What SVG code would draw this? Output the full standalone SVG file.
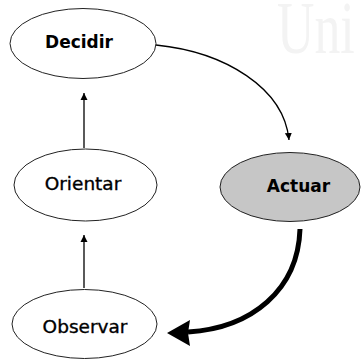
<svg xmlns="http://www.w3.org/2000/svg" width="361" height="359" viewBox="0 0 361 359">
<style>
.node ellipse{fill:#fff;stroke:#222;stroke-width:1}
#actuar ellipse{fill:#c6c6c6}
.lbl{font-family:"DejaVu Sans",Verdana,sans-serif;fill:#000;text-anchor:middle}
.b{font-weight:bold;font-size:17px}
.r{font-weight:normal;font-size:18.5px;stroke:#000;stroke-width:0.35}
.thin{fill:none;stroke:#000;stroke-width:1.3}
.thick{fill:none;stroke:#000;stroke-width:5}
</style>
<defs>
<marker id="ah" markerWidth="8" markerHeight="8" refX="7" refY="4" orient="auto" markerUnits="userSpaceOnUse">
<path d="M0,0.5 L7,4 L0,7.5 Z" fill="#000"/>
</marker>
</defs>
<text x="277" y="53" font-family="Liberation Serif,serif" font-size="74" fill="#f3f3f3" transform="translate(277 0) scale(0.7 1) translate(-277 0)">Uni</text>
<g id="connectors">
<path class="thin" d="M84,148 L84,93" marker-end="url(#ah)"/>
<path class="thin" d="M84,288 L84,235" marker-end="url(#ah)"/>
<path class="thin" d="M156,45 C225,52 284,88 289,140" marker-end="url(#ah)"/>
<path class="thick" d="M300,229 C298,290 252,328 188,332"/>
<path d="M167,333 L190,320 L188,333 L190,346 Z" fill="#000"/>
</g>
<g id="decidir" class="node">
<ellipse cx="83" cy="43.5" rx="73" ry="35"/>
<text class="lbl b" x="79" y="48">Decidir</text>
</g>
<g id="orientar" class="node">
<ellipse cx="85.5" cy="185" rx="71.5" ry="36"/>
<text class="lbl r" x="83" y="190">Orientar</text>
</g>
<g id="actuar" class="node">
<ellipse cx="290" cy="187" rx="70" ry="34.5"/>
<text class="lbl b" x="298.5" y="192">Actuar</text>
</g>
<g id="observar" class="node">
<ellipse cx="84.5" cy="324" rx="72.5" ry="34.5"/>
<text class="lbl r" x="85" y="333">Observar</text>
</g>
</svg>
